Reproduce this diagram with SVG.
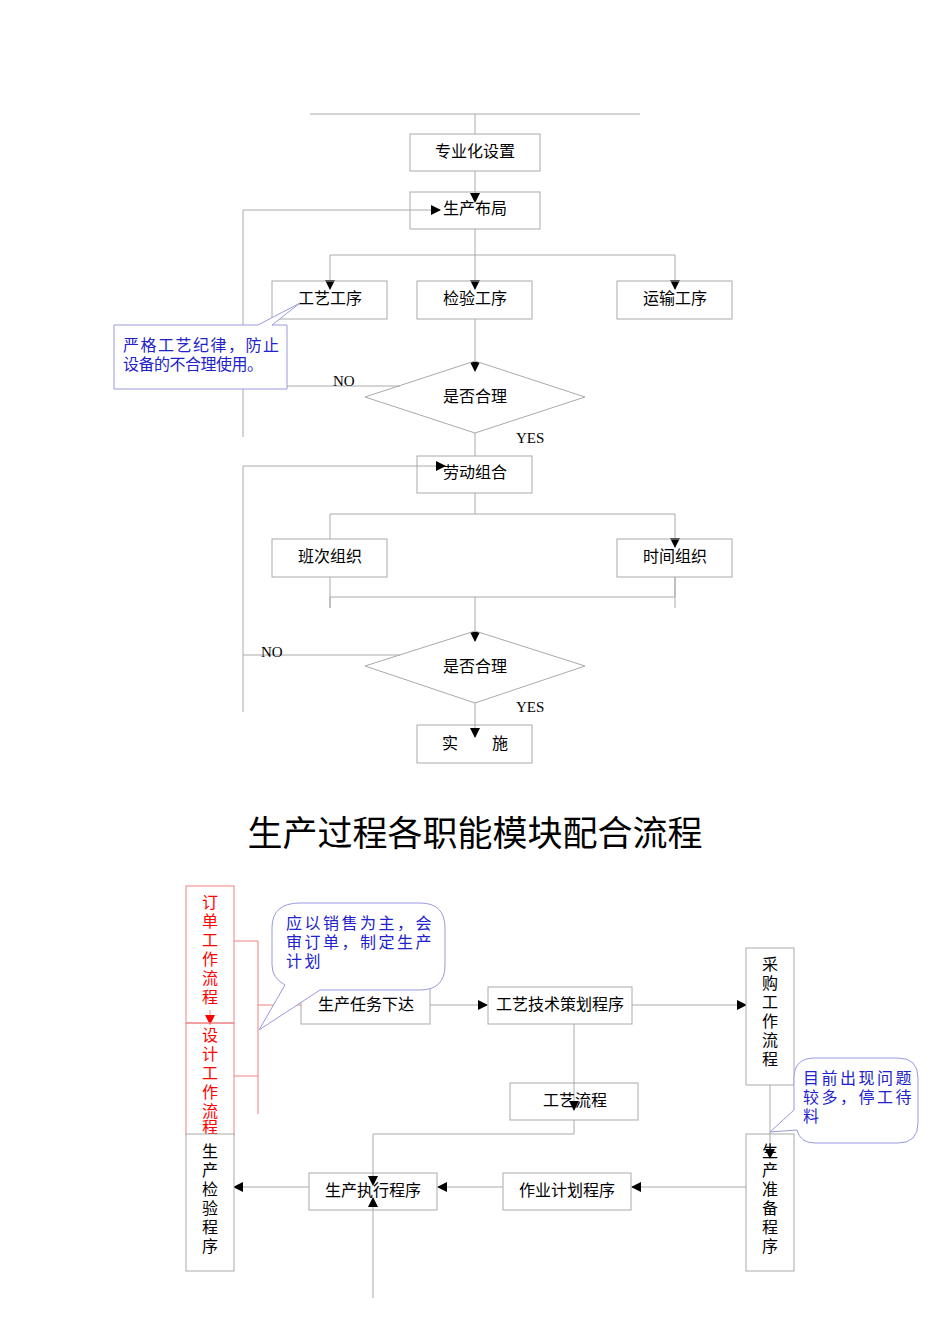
<svg xmlns="http://www.w3.org/2000/svg" width="950" height="1344" viewBox="0 0 950 1344">
<style>
.b{fill:#fff;stroke:#aaa;stroke-width:1}
.l{fill:none;stroke:#aaa;stroke-width:1}
.r{fill:none;stroke:#f08080;stroke-width:1}
.t{font-family:"Liberation Serif","Noto Sans CJK SC",serif;font-size:16px;fill:#000;text-anchor:middle}
.e{font-family:"Liberation Serif",serif;font-size:15px;fill:#000}
.c{font-family:"Noto Sans CJK SC",sans-serif;font-size:16px;fill:#2222cc}
.c2{font-family:"Noto Sans CJK SC",sans-serif;font-size:16px;fill:#2222cc;letter-spacing:2.5px}
.co{fill:#fff;stroke:#9999dd;stroke-width:1}
</style>
<defs>
<marker id="a" markerWidth="10" markerHeight="10" refX="9" refY="5" orient="auto" markerUnits="userSpaceOnUse"><path d="M0,0L10,5L0,10z" fill="#000"/></marker>
<marker id="ar" markerWidth="10" markerHeight="10" refX="9" refY="5" orient="auto" markerUnits="userSpaceOnUse"><path d="M0,0L10,5L0,10z" fill="red"/></marker>
</defs>
<g id="connectors">
<line class="l" x1="310" y1="114" x2="640" y2="114"/>
<line class="l" x1="475" y1="114" x2="475" y2="144" marker-end="url(#a)"/>
<line class="l" x1="475" y1="171" x2="475" y2="202" marker-end="url(#a)"/>
<polyline class="l" points="243,437 243,210 440,210" marker-end="url(#a)"/>
<line class="l" x1="330" y1="255" x2="675" y2="255"/>
<line class="l" x1="330" y1="255" x2="330" y2="289" marker-end="url(#a)"/>
<line class="l" x1="675" y1="255" x2="675" y2="289" marker-end="url(#a)"/>
<line class="l" x1="475" y1="229" x2="475" y2="289" marker-end="url(#a)"/>
<line class="l" x1="475" y1="319" x2="475" y2="371" marker-end="url(#a)"/>
<line class="l" x1="287" y1="386" x2="400" y2="386"/>
<line class="l" x1="475" y1="433" x2="475" y2="456"/>
<polyline class="l" points="243,712 243,466 445,466" marker-end="url(#a)"/>
<line class="l" x1="475" y1="493" x2="475" y2="514"/>
<line class="l" x1="330" y1="514" x2="675" y2="514"/>
<line class="l" x1="330" y1="514" x2="330" y2="539"/>
<line class="l" x1="675" y1="514" x2="675" y2="547" marker-end="url(#a)"/>
<polyline class="l" points="330,577 330,608 330,597 675,597 675,577 675,608"/>
<line class="l" x1="475" y1="597" x2="475" y2="641" marker-end="url(#a)"/>
<line class="l" x1="243" y1="655" x2="400" y2="655"/>
<line class="l" x1="475" y1="703" x2="475" y2="737" marker-end="url(#a)"/>
<polyline class="r" points="234,941 258,941 258,1114"/>
<line class="r" x1="234" y1="1076" x2="258" y2="1076"/>
<line class="r" x1="258" y1="1005" x2="301" y2="1005"/>
<line class="r" x1="210" y1="1010" x2="210" y2="1024" marker-end="url(#ar)"/>
<line class="l" x1="430" y1="1005" x2="487" y2="1005" marker-end="url(#a)"/>
<line class="l" x1="632" y1="1005" x2="746" y2="1005" marker-end="url(#a)"/>
<line class="l" x1="574" y1="1024" x2="574" y2="1110" marker-end="url(#a)"/>
<polyline class="l" points="574,1120 574,1134 373,1134 373,1185" marker-end="url(#a)"/>
<line class="l" x1="770" y1="1085" x2="770" y2="1158" marker-end="url(#a)"/>
<line class="l" x1="746" y1="1187" x2="632" y2="1187" marker-end="url(#a)"/>
<line class="l" x1="503" y1="1187" x2="438" y2="1187" marker-end="url(#a)"/>
<line class="l" x1="309" y1="1187" x2="234" y2="1187" marker-end="url(#a)"/>
<line class="l" x1="373" y1="1298" x2="373" y2="1198" marker-end="url(#a)"/>
</g>
<g id="n1"><rect class="b" x="410" y="134" width="130" height="37"/><text class="t" x="475" y="157">专业化设置</text></g>
<g id="n2"><rect class="b" x="410" y="192" width="130" height="37" fill-opacity="0"/><text class="t" x="475" y="214">生产布局</text></g>
<g id="n3"><rect class="b" x="272" y="281" width="115" height="38" fill-opacity="0"/><text class="t" x="330" y="304">工艺工序</text></g>
<g id="n4"><rect class="b" x="417" y="281" width="115" height="38" fill-opacity="0"/><text class="t" x="475" y="304">检验工序</text></g>
<g id="n5"><rect class="b" x="617" y="281" width="115" height="38" fill-opacity="0"/><text class="t" x="675" y="304">运输工序</text></g>
<g id="call1"><path class="co" d="M114,325H258L300,303L272,325H287V389H114Z"/><text class="c" x="123" y="351" textLength="156">严格工艺纪律，防止</text><text class="c" x="123" y="370" textLength="140">设备的不合理使用。</text></g>
<g id="d1"><polygon class="b" points="475,361 585,397 475,433 365,397" fill-opacity="0"/><text class="t" x="475" y="402">是否合理</text></g>
<text class="e" x="333" y="386">NO</text>
<text class="e" x="516" y="443">YES</text>
<g id="n6"><rect class="b" x="417" y="456" width="115" height="37" fill-opacity="0"/><text class="t" x="475" y="478">劳动组合</text></g>
<g id="n7"><rect class="b" x="272" y="539" width="115" height="38" fill-opacity="0"/><text class="t" x="330" y="562">班次组织</text></g>
<g id="n8"><rect class="b" x="617" y="539" width="115" height="38" fill-opacity="0"/><text class="t" x="675" y="562">时间组织</text></g>
<g id="d2"><polygon class="b" points="475,631 585,666 475,703 365,666" fill-opacity="0"/><text class="t" x="475" y="672">是否合理</text></g>
<text class="e" x="261" y="657">NO</text>
<text class="e" x="516" y="712">YES</text>
<g id="n9"><rect class="b" x="417" y="725" width="115" height="38" fill-opacity="0"/><text class="t" x="450" y="749">实</text><text class="t" x="500" y="749">施</text></g>
<text x="475" y="846" text-anchor="middle" style="font-family:'Liberation Serif','Noto Sans CJK SC',serif;font-size:35px">生产过程各职能模块配合流程</text>
<g id="m1"><rect x="186" y="886" width="48" height="137" fill="none" stroke="#f08080"/><text class="t" style="fill:red"><tspan x="210" y="908">订</tspan><tspan x="210" y="927">单</tspan><tspan x="210" y="946">工</tspan><tspan x="210" y="965">作</tspan><tspan x="210" y="984">流</tspan><tspan x="210" y="1003">程</tspan></text></g>
<g id="m2"><rect x="186" y="1023" width="48" height="112" fill="none" stroke="#f08080"/><text class="t" style="fill:red"><tspan x="210" y="1041">设</tspan><tspan x="210" y="1060">计</tspan><tspan x="210" y="1079">工</tspan><tspan x="210" y="1098">作</tspan><tspan x="210" y="1117">流</tspan><tspan x="210" y="1133">程</tspan></text></g>
<g id="m3"><rect class="b" x="301" y="987" width="129" height="37"/><text class="t" x="366" y="1010">生产任务下达</text></g>
<g id="call2"><path class="co" d="M300,903H420Q445,903 445,928V965Q445,990 420,990H320L259,1030L285,985Q272,978 272,965V928Q272,903 300,903Z"/><text class="c2" x="286" y="929">应以销售为主，会</text><text class="c2" x="286" y="948">审订单，制定生产</text><text class="c2" x="286" y="967">计划</text></g>
<g id="m4"><rect class="b" x="488" y="987" width="144" height="37"/><text class="t" x="560" y="1010">工艺技术策划程序</text></g>
<g id="m5"><rect class="b" x="746" y="948" width="48" height="137"/><text class="t"><tspan x="770" y="970">采</tspan><tspan x="770" y="989">购</tspan><tspan x="770" y="1008">工</tspan><tspan x="770" y="1027">作</tspan><tspan x="770" y="1046">流</tspan><tspan x="770" y="1065">程</tspan></text></g>
<g id="m6"><rect class="b" x="510" y="1083" width="128" height="37" fill-opacity="0"/><text class="t" x="575" y="1106">工艺流程</text></g>
<g id="m7"><rect class="b" x="186" y="1134" width="48" height="137"/><text class="t"><tspan x="210" y="1157">生</tspan><tspan x="210" y="1176">产</tspan><tspan x="210" y="1195">检</tspan><tspan x="210" y="1214">验</tspan><tspan x="210" y="1233">程</tspan><tspan x="210" y="1252">序</tspan></text></g>
<g id="m8"><rect class="b" x="309" y="1173" width="128" height="37" fill-opacity="0"/><text class="t" x="373" y="1196">生产执行程序</text></g>
<g id="m9"><rect class="b" x="503" y="1173" width="128" height="37"/><text class="t" x="567" y="1196">作业计划程序</text></g>
<g id="m10"><rect class="b" x="746" y="1134" width="48" height="137" fill-opacity="0"/><text class="t"><tspan x="770" y="1157">生</tspan><tspan x="770" y="1176">产</tspan><tspan x="770" y="1195">准</tspan><tspan x="770" y="1214">备</tspan><tspan x="770" y="1233">程</tspan><tspan x="770" y="1252">序</tspan></text></g>
<g id="call3"><path class="co" d="M815,1058H898Q918,1058 918,1078V1123Q918,1143 898,1143H815Q800,1143 797,1130L770,1132L794,1110V1078Q794,1058 815,1058Z"/><text class="c2" x="803" y="1084">目前出现问题</text><text class="c2" x="803" y="1103">较多，停工待</text><text class="c2" x="803" y="1122">料</text></g>
</svg>
